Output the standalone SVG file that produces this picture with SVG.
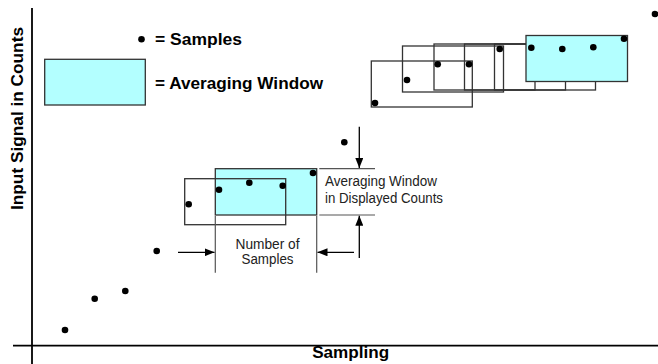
<svg xmlns="http://www.w3.org/2000/svg" width="658" height="364" viewBox="0 0 658 364">
<style>
.bold{font-family:"Liberation Sans",Arial,sans-serif;font-weight:bold;font-size:16.5px;fill:#000}
.reg{font-family:"Liberation Sans",Arial,sans-serif;font-size:14px;fill:#222}
.win{fill:none;stroke:#333;stroke-width:1.3}
.cyan{fill:#b3ffff;stroke:#333;stroke-width:1.3}
.axis{stroke:#000;stroke-width:1.8;fill:none}
.dim{stroke:#555;stroke-width:1.2;fill:none}
.arr{stroke:#000;stroke-width:1.3;fill:none;marker-end:url(#ah)}
.dot{fill:#000}
</style>
<defs>
<marker id="ah" viewBox="0 0 10 8" refX="10" refY="4" markerWidth="10" markerHeight="8" markerUnits="userSpaceOnUse" orient="auto">
<path d="M0,0 L10,4 L0,8 Z" fill="#000"/>
</marker>
</defs>
<rect width="658" height="364" fill="#fff"/>
<g id="axes">
<line class="axis" x1="32" y1="8" x2="32" y2="364"/>
<line class="axis" x1="13" y1="345.7" x2="658" y2="345.7"/>
<text class="bold" x="350.7" y="358" text-anchor="middle" textLength="77" lengthAdjust="spacingAndGlyphs">Sampling</text>
<text class="bold" transform="translate(23,118.5) rotate(-90)" text-anchor="middle" textLength="183" lengthAdjust="spacingAndGlyphs">Input Signal in Counts</text>
</g>
<g id="legend">
<circle class="dot" cx="141.5" cy="39.3" r="3.3"/>
<text class="bold" x="155" y="44.7" textLength="87" lengthAdjust="spacingAndGlyphs">= Samples</text>
<rect class="cyan" x="44.7" y="59.3" width="100.6" height="45.7"/>
<text class="bold" x="155" y="89" textLength="168" lengthAdjust="spacingAndGlyphs">= Averaging Window</text>
</g>
<g id="upper-windows">
<rect class="win" x="371.3" y="61" width="101" height="46"/>
<rect class="win" x="402.5" y="46" width="101" height="46"/>
<rect class="win" x="434" y="44" width="101" height="46"/>
<rect class="win" x="464.5" y="44" width="101" height="46"/>
<rect class="win" x="494.5" y="44" width="101" height="46"/>
<rect class="cyan" x="526" y="35.5" width="101.5" height="46"/>
</g>
<g id="middle-windows">
<rect class="cyan" x="215.3" y="168.7" width="101.4" height="46.3"/>
<rect class="win" x="184.7" y="178.7" width="101" height="46"/>
</g>
<g id="samples">
<circle class="dot" cx="65" cy="330" r="3.3"/>
<circle class="dot" cx="94.7" cy="298.7" r="3.3"/>
<circle class="dot" cx="125.3" cy="291" r="3.3"/>
<circle class="dot" cx="156.7" cy="251" r="3.3"/>
<circle class="dot" cx="188.7" cy="204.3" r="3.3"/>
<circle class="dot" cx="219" cy="189.7" r="3.3"/>
<circle class="dot" cx="249.3" cy="182.7" r="3.3"/>
<circle class="dot" cx="282.7" cy="185.7" r="3.3"/>
<circle class="dot" cx="313" cy="173" r="3.3"/>
<circle class="dot" cx="344.3" cy="142.3" r="3.3"/>
<circle class="dot" cx="375" cy="103" r="3.3"/>
<circle class="dot" cx="407" cy="80" r="3.3"/>
<circle class="dot" cx="437.7" cy="64.3" r="3.3"/>
<circle class="dot" cx="469" cy="64.3" r="3.3"/>
<circle class="dot" cx="499.7" cy="49" r="3.3"/>
<circle class="dot" cx="531.3" cy="47.7" r="3.3"/>
<circle class="dot" cx="562.3" cy="49" r="3.3"/>
<circle class="dot" cx="593.3" cy="47.3" r="3.3"/>
<circle class="dot" cx="624" cy="38.7" r="3.3"/>
<circle class="dot" cx="655" cy="14" r="3.3"/>
</g>
<g id="label-window-counts">
<text class="reg" x="325" y="186" textLength="112" lengthAdjust="spacingAndGlyphs">Averaging Window</text>
<text class="reg" x="325" y="203" textLength="118" lengthAdjust="spacingAndGlyphs">in Displayed Counts</text>
</g>
<g id="label-number-samples">
<text class="reg" x="267.5" y="249.3" text-anchor="middle" textLength="64" lengthAdjust="spacingAndGlyphs">Number of</text>
<text class="reg" x="267.5" y="264" text-anchor="middle" textLength="52" lengthAdjust="spacingAndGlyphs">Samples</text>
</g>
<g id="connectors">
<line class="dim" x1="319.3" y1="168.7" x2="375" y2="168.7"/>
<line class="dim" x1="319.3" y1="215" x2="375" y2="215"/>
<line class="dim" x1="215.3" y1="216" x2="215.3" y2="272.7"/>
<line class="dim" x1="316.7" y1="216" x2="316.7" y2="272.7"/>
<line class="arr" x1="359.3" y1="126.7" x2="359.3" y2="168"/>
<line class="arr" x1="359.3" y1="258" x2="359.3" y2="215.7"/>
<line class="arr" x1="178" y1="252.3" x2="214.5" y2="252.3"/>
<line class="arr" x1="354" y1="252.3" x2="317.5" y2="252.3"/>
</g>
</svg>
